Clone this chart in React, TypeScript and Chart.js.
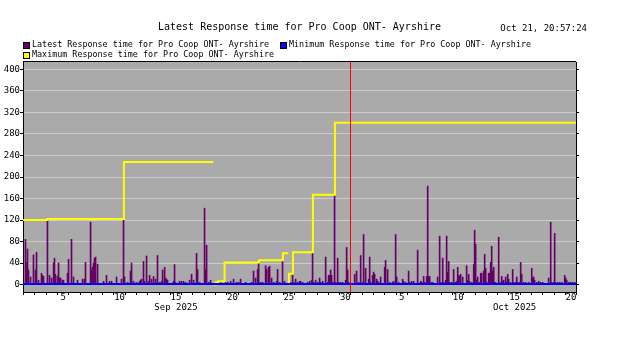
import React, { useEffect, useRef } from 'react';
import { Chart, registerables } from 'chart.js';

Chart.register(...registerables);

// ---------- DATA ----------
const chartTitle = 'Latest Response time for Pro Coop ONT- Ayrshire';
const timestampText = 'Oct 21, 20:57:24';
const seriesNames = [
  'Latest Response time for Pro Coop ONT- Ayrshire',
  'Minimum Response time for Pro Coop ONT- Ayrshire',
  'Maximum Response time for Pro Coop ONT- Ayrshire',
];

// time axis: days since Sep 1 2025 00:00 (Sep 1 = 0, Oct 1 = 30)
const axisStartDay = 0.942;
const axisEndDay = 49.942;

const latestDays = [
  1.16, 1.25, 1.34, 1.43, 1.61, 1.87, 2.05, 2.14, 2.32, 2.58,
  2.67, 2.76, 3.11, 3.29, 3.47, 3.65, 3.73, 3.82, 4.0, 4.09,
  4.18, 4.27, 4.44, 4.53, 4.89, 4.98, 5.24, 5.42, 5.77, 6.22,
  6.39, 6.48, 6.93, 7.01, 7.1, 7.19, 7.28, 7.37, 7.55, 8.08,
  8.34, 8.61, 8.79, 9.23, 9.67, 9.85, 9.94, 10.21, 10.47, 10.56,
  10.74, 11.0, 11.27, 11.36, 11.45, 11.62, 11.71, 11.89, 12.07, 12.16,
  12.33, 12.51, 12.69, 12.86, 13.04, 13.22, 13.31, 13.49, 13.57, 13.66,
  13.75, 14.28, 14.37, 14.46, 14.81, 14.99, 15.17, 15.35, 15.7, 15.88,
  16.06, 16.32, 16.41, 16.59, 17.03, 17.12, 17.21, 17.39, 17.56, 17.92,
  18.45, 18.89, 19.07, 19.34, 19.6, 19.87, 20.04, 20.22, 20.67, 21.2,
  21.37, 21.55, 21.73, 21.82, 21.99, 22.17, 22.44, 22.53, 22.7, 22.79,
  22.97, 23.15, 23.41, 23.5, 23.68, 23.94, 24.12, 24.3, 24.57, 24.65,
  24.83, 24.92, 25.1, 25.27, 25.45, 25.54, 25.72, 26.16, 26.34, 26.52,
  26.6, 26.69, 26.87, 27.05, 27.22, 27.31, 27.49, 27.76, 27.93, 28.02,
  28.11, 28.2, 28.29, 28.38, 28.55, 28.64, 28.82, 28.91, 29.09, 29.26,
  29.53, 29.62, 29.71, 29.8, 30.33, 30.5, 30.68, 30.86, 31.04, 31.12,
  31.3, 31.57, 31.66, 31.75, 31.92, 32.01, 32.1, 32.28, 32.37, 32.45,
  32.63, 32.99, 33.07, 33.25, 33.43, 33.7, 33.78, 33.96, 34.05, 34.23,
  34.58, 34.67, 34.85, 35.11, 35.2, 35.38, 35.56, 35.91, 36.18, 36.27,
  36.44, 36.53, 36.71, 36.8, 36.89, 36.98, 37.15, 37.24, 37.68, 37.86,
  37.95, 38.13, 38.22, 38.39, 38.48, 38.57, 38.66, 38.75, 38.93, 39.1,
  39.28, 39.37, 39.46, 39.55, 39.63, 39.72, 39.9, 40.25, 40.34, 40.43,
  40.52, 40.7, 40.88, 40.96, 41.05, 41.14, 41.23, 41.41, 41.5, 41.58,
  41.76, 41.85, 41.94, 42.03, 42.2, 42.29, 42.38, 42.47, 42.56, 42.65,
  42.74, 42.82, 43.09, 43.18, 43.36, 43.45, 43.53, 43.71, 43.8, 43.89,
  43.98, 44.15, 44.33, 44.42, 44.6, 44.69, 44.78, 44.95, 45.04, 45.13,
  45.31, 45.48, 45.75, 46.02, 46.1, 46.19, 46.28, 46.46, 46.64, 46.81,
  46.99, 47.52, 47.7, 47.79, 47.97, 48.05, 48.14, 48.32, 48.5, 48.68,
  48.94, 49.03, 49.12, 49.3, 49.47, 49.65, 49.83,
];
const latestValues = [
  84, 41, 66, 27, 14, 55, 27, 60, 8, 21,
  17, 15, 120, 17, 12, 40, 49, 19, 15, 40,
  12, 12, 8, 8, 21, 47, 84, 14, 8, 10,
  10, 41, 116, 27, 32, 40, 49, 51, 38, 6,
  17, 6, 6, 14, 10, 120, 14, 4, 25, 40,
  6, 4, 6, 8, 10, 43, 6, 53, 6, 17,
  10, 15, 10, 54, 4, 6, 27, 32, 12, 10,
  8, 6, 37, 4, 6, 6, 6, 4, 8, 19,
  8, 58, 28, 4, 142, 28, 73, 4, 8, 2,
  4, 4, 4, 6, 10, 4, 4, 10, 4, 4,
  25, 12, 28, 40, 4, 4, 35, 28, 32, 34,
  12, 4, 6, 28, 4, 43, 6, 2, 4, 4,
  19, 4, 10, 4, 6, 6, 4, 4, 6, 8,
  58, 4, 8, 4, 12, 4, 6, 51, 4, 17,
  17, 27, 17, 4, 166, 4, 49, 4, 4, 4,
  8, 69, 27, 4, 19, 25, 4, 54, 4, 93,
  30, 10, 51, 4, 17, 23, 19, 10, 6, 4,
  14, 32, 45, 28, 4, 4, 6, 93, 14, 4,
  10, 6, 4, 25, 4, 6, 6, 64, 6, 4,
  15, 4, 15, 183, 15, 15, 4, 4, 14, 90,
  4, 49, 4, 8, 90, 23, 43, 4, 4, 28,
  4, 6, 32, 17, 15, 19, 14, 35, 8, 19,
  6, 4, 37, 101, 75, 8, 14, 4, 21, 21,
  25, 56, 30, 4, 21, 21, 41, 71, 25, 32,
  4, 4, 88, 4, 15, 6, 8, 14, 4, 19,
  10, 4, 28, 4, 4, 14, 4, 4, 41, 19,
  4, 4, 4, 30, 12, 14, 8, 4, 6, 4,
  4, 12, 116, 4, 4, 95, 4, 4, 4, 4,
  17, 12, 8, 4, 4, 4, 4,
];

const minimumDays = [0.942, 49.942];
const minimumValues = [1, 1];

const maximumDays = [
  0.95, 3.09, 9.88, 17.8, 17.805,
  17.81, 18.01, 18.21, 18.8, 21.84, 23.97, 24.45, 24.47,
  24.5, 24.51, 24.86, 26.63, 28.58, 49.94,
];
const maximumValues = [
  120, 122, 228, 228, null,
  0, 4, 6, 41, 45, 58, 58, null,
  0, 20, 60, 167, 301, 301,
];

const yTickValues = [0, 40, 80, 120, 160, 200, 240, 280, 320, 360, 400];
const dayLabelDays = [4.5, 9.5, 14.5, 19.5, 24.5, 29.5, 34.5, 39.5, 44.5, 49.5];
const dayLabels = ['5', '10', '15', '20', '25', '30', '5', '10', '15', '20'];
const monthLabelDays = [14.5, 44.5];
const monthLabels = ['Sep 2025', 'Oct 2025'];
const monthBoundaryDay = 30;

// ---------- STYLE ----------
const MONO = '"DejaVu Sans Mono", monospace';
const COLORS = { latest: '#660066', minimum: '#0000ff', maximum: '#ffff00' };

const decorPlugin = {
  id: 'decor',
  beforeDraw(chart: any) {
    const { ctx, chartArea } = chart;
    ctx.save();
    ctx.fillStyle = '#ffffff';
    ctx.fillRect(0, 0, chart.width, chart.height);
    ctx.fillStyle = '#aaaaaa';
    ctx.fillRect(chartArea.left, chartArea.top, chartArea.right - chartArea.left, chartArea.bottom - chartArea.top);
    ctx.restore();
  },
  afterDatasetsDraw(chart: any) {
    const { ctx, chartArea } = chart;
    const xs = chart.scales.x;
    const px = Math.floor(xs.getPixelForValue(monthBoundaryDay)) + 0.5;
    ctx.save();
    ctx.strokeStyle = '#ff0000';
    ctx.lineWidth = 1;
    ctx.beginPath();
    ctx.moveTo(px, chartArea.top);
    ctx.lineTo(px, chartArea.bottom);
    ctx.stroke();
    ctx.restore();
  },
  afterDraw(chart: any) {
    const { ctx, chartArea } = chart;
    const xs = chart.scales.x;
    ctx.save();
    // top border
    ctx.strokeStyle = '#000';
    ctx.lineWidth = 1;
    ctx.beginPath();
    ctx.moveTo(chartArea.left, chartArea.top - 0.5);
    ctx.lineTo(chartArea.right, chartArea.top - 0.5);
    ctx.stroke();

    ctx.fillStyle = '#000';
    ctx.textBaseline = 'middle';
    // title
    ctx.font = `10px ${MONO}`;
    ctx.textAlign = 'center';
    ctx.fillText(chartTitle, (chartArea.left + chartArea.right) / 2, 27);
    // timestamp
    ctx.font = `9px ${MONO}`;
    ctx.textAlign = 'right';
    ctx.fillText(timestampText, 587, 29);

    // legend
    const items = [
      { idx: 0, x: 23, y: 44.5 },
      { idx: 1, x: 280, y: 44.5 },
      { idx: 2, x: 23, y: 54.5 },
    ];
    const legendColors = [COLORS.latest, COLORS.minimum, COLORS.maximum];
    ctx.font = `8.4px ${MONO}`;
    ctx.textAlign = 'left';
    items.forEach((it) => {
      ctx.fillStyle = legendColors[it.idx];
      ctx.fillRect(it.x, Math.round(it.y - 3), 6, 6);
      ctx.strokeStyle = '#000';
      ctx.strokeRect(it.x + 0.5, Math.round(it.y - 3) + 0.5, 6, 6);
      ctx.fillStyle = '#000';
      ctx.fillText(seriesNames[it.idx], it.x + 9, it.y);
    });

    // x day labels
    ctx.font = `9px ${MONO}`;
    ctx.textAlign = 'center';
    dayLabelDays.forEach((d, i) => {
      ctx.fillText(dayLabels[i], xs.getPixelForValue(d), 298);
    });
    monthLabelDays.forEach((d, i) => {
      ctx.fillText(monthLabels[i], xs.getPixelForValue(d), 307.5);
    });
    ctx.restore();
  },
};

export default function App() {
  const ref = useRef<HTMLCanvasElement>(null);
  useEffect(() => {
    document.body.style.margin = '0';
    const yTicks = (s: any) => {
      s.ticks = yTickValues.map((v) => ({ value: v }));
    };
    const chart = new Chart(ref.current as HTMLCanvasElement, {
      type: 'bar',
      data: {
        datasets: [
          {
            type: 'line',
            label: seriesNames[1],
            data: minimumDays.map((x, i) => ({ x, y: minimumValues[i] })),
            borderColor: COLORS.minimum,
            backgroundColor: COLORS.minimum,
            borderWidth: 2,
            pointRadius: 0,
            order: 1,
          } as any,
          {
            type: 'line',
            label: seriesNames[2],
            data: maximumDays.map((x, i) => ({ x, y: maximumValues[i] })),
            borderColor: COLORS.maximum,
            backgroundColor: COLORS.maximum,
            borderWidth: 2,
            pointRadius: 0,
            stepped: 'before',
            spanGaps: false,
            order: 2,
          } as any,
          {
            type: 'bar',
            label: seriesNames[0],
            data: latestDays.map((x, i) => ({ x, y: latestValues[i] })),
            backgroundColor: COLORS.latest,
            borderWidth: 0,
            barThickness: 1,
            order: 3,
          } as any,
        ],
      },
      options: {
        responsive: false,
        animation: false,
        events: [],
        layout: { padding: { top: 62, left: 0, right: 0, bottom: 0 } },
        plugins: {
          legend: { display: false },
          title: { display: false },
          tooltip: { enabled: false },
        },
        scales: {
          x: {
            type: 'linear',
            position: 'bottom',
            min: axisStartDay,
            max: axisEndDay,
            offset: false,
            afterBuildTicks: (s: any) => {
              const t = [];
              for (let d = 1; d <= 50; d++) t.push({ value: d });
              s.ticks = t;
            },
            afterFit: (s: any) => {
              s.height = 61;
            },
            ticks: { display: false },
            grid: { offset: false, drawOnChartArea: false, tickLength: 3, color: '#000' },
            border: { color: '#000', width: 1 },
          },
          y: {
            type: 'linear',
            position: 'left',
            min: -13.95,
            max: 413.95,
            afterBuildTicks: yTicks,
            afterFit: (s: any) => {
              s.width = 23;
            },
            ticks: { color: '#000', padding: 0, font: { family: 'DejaVu Sans Mono', size: 9 } },
            grid: { color: '#cccccc', tickColor: '#000', tickLength: 3 },
            border: { color: '#000', width: 1 },
          },
          y2: {
            type: 'linear',
            position: 'right',
            min: -13.95,
            max: 413.95,
            afterBuildTicks: yTicks,
            afterFit: (s: any) => {
              s.width = 50;
            },
            ticks: { display: false },
            grid: { drawOnChartArea: false, color: '#000', tickLength: 3 },
            border: { color: '#000', width: 1 },
          },
        },
      } as any,
      plugins: [decorPlugin],
    });
    return () => chart.destroy();
  }, []);
  return (
    <div style={{ width: 626, height: 353, background: '#fff' }}>
      <canvas ref={ref} width={626} height={353} style={{ display: 'block', width: 626, height: 353 }} />
    </div>
  );
}
